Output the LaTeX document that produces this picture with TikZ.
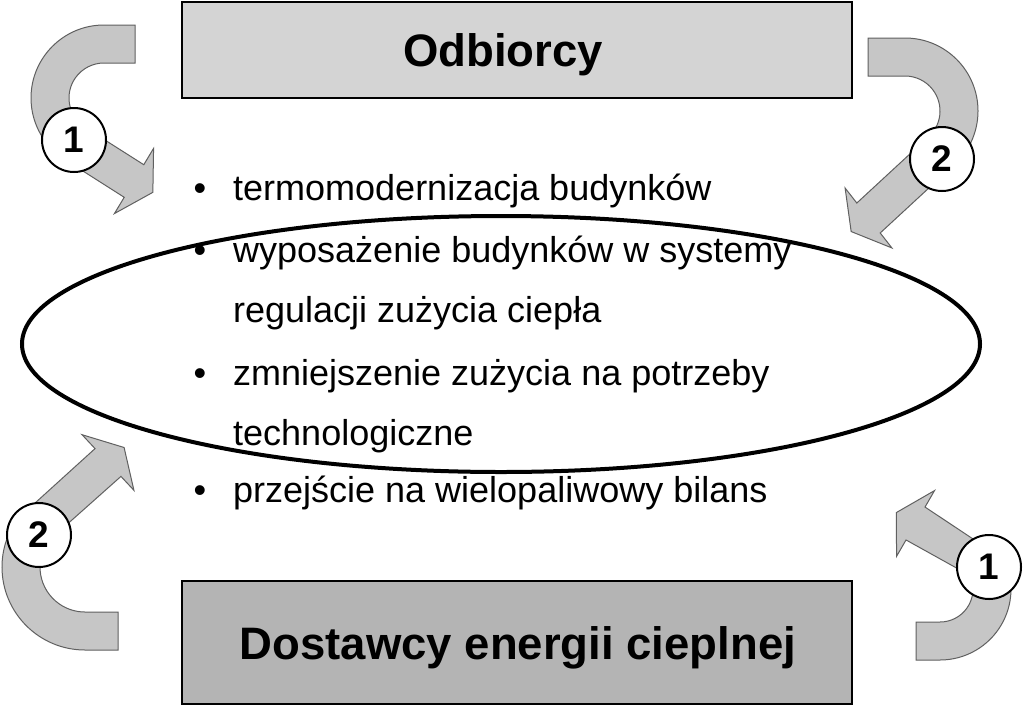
\documentclass[tikz,border=0pt]{standalone}
\usepackage{fontspec}
\setmainfont{Liberation Sans}
\usetikzlibrary{calc}
\definecolor{topgray}{HTML}{D4D4D4}
\definecolor{botgray}{HTML}{B4B4B4}
\definecolor{arrgray}{HTML}{C6C6C6}
\definecolor{arredge}{HTML}{606060}
\newcommand\ahw{38}
\newcommand\ahl{22}
% #1 R, #2 r, #3 tail length, #4 arc end angle, #5,#6 head base centre, #7 head direction
\newcommand\hookpath[7]{%
 \pgfmathsetmacro\hsw{(#1-#2)/2}%
 \pgfmathsetmacro\pax{#5+\hsw*cos(#7-90)}\pgfmathsetmacro\pay{#6+\hsw*sin(#7-90)}%
 \pgfmathsetmacro\pbx{#5+\ahw*cos(#7-90)}\pgfmathsetmacro\pby{#6+\ahw*sin(#7-90)}%
 \pgfmathsetmacro\pcx{#5+\ahl*cos(#7)}\pgfmathsetmacro\pcy{#6+\ahl*sin(#7)}%
 \pgfmathsetmacro\pdx{#5+\ahw*cos(#7+90)}\pgfmathsetmacro\pdy{#6+\ahw*sin(#7+90)}%
 \pgfmathsetmacro\pex{#5+\hsw*cos(#7+90)}\pgfmathsetmacro\pey{#6+\hsw*sin(#7+90)}%
 \path[arrowshape] (#3,#1) -- (0,#1) arc[start angle=90,end angle=#4,radius=#1]
   -- (\pax,\pay) -- (\pbx,\pby) -- (\pcx,\pcy) -- (\pdx,\pdy) -- (\pex,\pey)
   -- (#4:#2) arc[start angle=#4,end angle=90,radius=#2] -- (#3,#2) -- cycle;
}
\begin{document}
\begin{tikzpicture}[x=1pt,y=-1pt,
  arrowshape/.style={fill=arrgray,draw=arredge,line width=1pt,line join=miter},
  numc/.style={circle,draw=black,line width=2pt,fill=white,minimum size=64pt,inner sep=0pt,
    font=\fontsize{37}{37}\selectfont\bfseries},
  boxnode/.style={draw=black,line width=2pt,minimum width=670pt,inner sep=0pt},
  boxtext/.style={inner sep=0pt,text height=33pt,text depth=0pt,
    font=\fontsize{45.5}{45.5}\selectfont\bfseries},
  itemtext/.style={anchor=base west,inner sep=0pt,font=\fontsize{36}{40}\selectfont},
  bulletnode/.style={anchor=base,inner sep=0pt,font=\fontsize{36}{40}\selectfont}]
\fill[white] (0,0) rectangle (1024,707);
\useasboundingbox (0,0) rectangle (1024,707);

% boxes
\node[boxnode,fill=topgray,minimum height=96pt] (odb) at (517,50) {};
\node[boxtext] (odbt) at (503,50) {Odbiorcy};
\node[boxnode,fill=botgray,minimum height=123pt] (dost) at (517,642.5) {};
\node[boxtext] (dostt) at (518,643) {Dostawcy energii cieplnej};

% ellipse
\draw[line width=4pt] (501,344) ellipse[x radius=479,y radius=128];

% bullet list
\node[bulletnode] (b1) at (200,200) {•};
\node[itemtext] (t1) at (233,200) {termomodernizacja budynków};
\node[bulletnode] (b2) at (200,262) {•};
\node[itemtext] (t2) at (233,262) {wyposażenie budynków w systemy};
\node[itemtext] (t3) at (233,322) {regulacji zużycia ciepła};
\node[bulletnode] (b4) at (200,385) {•};
\node[itemtext] (t4) at (233,385) {zmniejszenie zużycia na potrzeby};
\node[itemtext] (t5) at (233,445) {technologiczne};
\node[bulletnode] (b6) at (200,502) {•};
\node[itemtext] (t6) at (233,502) {przejście na wielopaliwowy bilans};

% curved arrows
\begin{scope}[shift={(104,98)},yscale=-1]
  \hookpath{73}{35}{31}{234.5}{30}{-83}{329}
\end{scope}
\begin{scope}[shift={(905,111)},xscale=-1,yscale=-1]
  \hookpath{73}{35}{37}{232}{36.5}{-107}{322}
\end{scope}
\begin{scope}[shift={(85,567)}]
  \hookpath{83}{45}{33}{215}{23}{-104.5}{317}
\end{scope}
\begin{scope}[shift={(940,589)},xscale=-1]
  \hookpath{71}{33}{24}{204}{24.5}{-65.5}{330}
\end{scope}

% numbered circles
\node[numc] (c1) at (74,140) {1};
\node[numc] (c2) at (942,159) {2};
\node[numc] (c3) at (39,535) {2};
\node[numc] (c4) at (989,567) {1};
\end{tikzpicture}
\end{document}
